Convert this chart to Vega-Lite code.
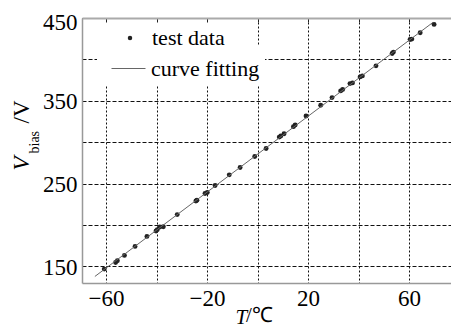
{
  "$schema": "https://vega.github.io/schema/vega-lite/v6.json",
  "width": 369,
  "height": 265,
  "autosize": {"type": "none"},
  "padding": {"left": 82, "top": 18, "right": 0, "bottom": 44},
  "background": "white",
  "config": {
    "view": {"stroke": null},
    "font": "Liberation Serif, serif"
  },
  "title": {
    "text": "/℃",
    "orient": "bottom",
    "anchor": "start",
    "frame": "group",
    "dx": 164,
    "offset": -5,
    "baseline": "alphabetic",
    "font": "Liberation Serif, serif",
    "fontSize": 21,
    "fontWeight": "normal",
    "color": "#000"
  },
  "resolve": {"axis": {"x": "independent", "y": "independent"}},
  "layer": [
    {
      "data": {
        "values": [
          {"T": -60.7, "V": 146.8},
          {"T": -56.2, "V": 154.8},
          {"T": -55.5, "V": 156.9},
          {"T": -52.7, "V": 163.3},
          {"T": -48.5, "V": 174.2},
          {"T": -43.8, "V": 186.3},
          {"T": -40.2, "V": 192.8},
          {"T": -39.7, "V": 194.4},
          {"T": -38.7, "V": 197.6},
          {"T": -37.3, "V": 198.0},
          {"T": -31.8, "V": 212.6},
          {"T": -24.4, "V": 229.1},
          {"T": -24.0, "V": 229.9},
          {"T": -20.8, "V": 238.0},
          {"T": -19.9, "V": 239.2},
          {"T": -16.8, "V": 247.7},
          {"T": -11.2, "V": 260.6},
          {"T": -6.9, "V": 269.5},
          {"T": -1.1, "V": 282.8},
          {"T": 3.4, "V": 292.5},
          {"T": 8.6, "V": 306.2},
          {"T": 9.2, "V": 307.5},
          {"T": 10.5, "V": 310.3},
          {"T": 14.2, "V": 318.8},
          {"T": 14.9, "V": 320.8},
          {"T": 19.2, "V": 331.7},
          {"T": 25.0, "V": 344.6},
          {"T": 29.5, "V": 353.9},
          {"T": 32.9, "V": 362.0},
          {"T": 33.7, "V": 363.6},
          {"T": 36.6, "V": 370.8},
          {"T": 37.6, "V": 371.6},
          {"T": 40.6, "V": 378.9},
          {"T": 41.5, "V": 380.1},
          {"T": 46.9, "V": 392.2},
          {"T": 53.3, "V": 407.2},
          {"T": 53.8, "V": 408.8},
          {"T": 60.4, "V": 424.1},
          {"T": 61.1, "V": 424.5},
          {"T": 64.4, "V": 432.2},
          {"T": 69.9, "V": 442.3}
        ]
      },
      "mark": {"type": "point", "filled": true, "size": 24, "color": "#222", "opacity": 1},
      "encoding": {
        "x": {
          "field": "T", "type": "quantitative",
          "scale": {"domain": [-69.5, 76.6], "nice": false, "zero": false},
          "axis": {
            "orient": "bottom",
            "values": [-60, -40, -20, 0, 20, 40, 60],
            "labelExpr": "abs(datum.value) % 40 == 20 ? datum.label : ''",
            "grid": true, "gridColor": "#111", "gridDash": [2, 2], "gridWidth": 1,
            "domainColor": "#999", "domainWidth": 1.5,
            "ticks": false, "tickSize": 0,
            "labelFont": "Liberation Serif, serif", "labelFontSize": 23, "labelColor": "#000", "labelPadding": 4,
            "title": "T",
            "titleFont": "Liberation Serif, serif", "titleFontSize": 21, "titleFontStyle": "italic", "titleFontWeight": "normal", "titleColor": "#000",
            "titleX": 153, "titleY": 40, "titleAlign": "left", "titleBaseline": "alphabetic", "titleAngle": 0,
            "zindex": 0
          }
        },
        "y": {
          "field": "V", "type": "quantitative",
          "scale": {"domain": [130, 450], "nice": false, "zero": false},
          "axis": {
            "orient": "left",
            "values": [150, 200, 250, 300, 350, 400, 450],
            "labelExpr": "datum.value % 100 == 50 ? datum.label : ''",
            "labelOffset": {"condition": {"test": "datum.value == 450", "value": 4}, "value": 1},
            "grid": true, "gridColor": "#111", "gridDash": [4, 2], "gridWidth": 1,
            "domainColor": "#999", "domainWidth": 1.5,
            "ticks": false, "tickSize": 0,
            "labelFont": "Liberation Serif, serif", "labelFontSize": 23, "labelColor": "#000", "labelPadding": 5,
            "title": "V",
            "titleFont": "Liberation Serif, serif", "titleFontSize": 23, "titleFontStyle": "italic", "titleFontWeight": "normal", "titleColor": "#000",
            "titleX": -54, "titleY": 152, "titleAlign": "left", "titleBaseline": "alphabetic", "titleAngle": -90,
            "zindex": 0
          }
        },
        "shape": {
          "datum": "test data", "type": "nominal",
          "scale": {"domain": ["test data"], "range": ["circle"]},
          "legend": {
            "orient": "none", "legendX": 15, "legendY": 4,
            "title": null,
            "fillColor": "white", "strokeColor": null,
            "padding": 5,
            "symbolSize": 20,
            "symbolFillColor": "#222",
            "symbolStrokeWidth": 0,
            "symbolOffset": 17,
            "labelOffset": 11,
            "labelFont": "Liberation Serif, serif", "labelFontSize": 22, "labelColor": "#000"
          }
        }
      }
    },
    {
      "data": {
        "values": [
          {"T": -64.4, "V": 137.9},
          {"T": 69.5, "V": 444.8}
        ]
      },
      "mark": {"type": "line", "strokeWidth": 1},
      "encoding": {
        "x": {
          "field": "T", "type": "quantitative",
          "axis": {
            "orient": "top",
            "values": [-60, -40, -20, 0, 20, 40, 60],
            "labels": false, "grid": false,
            "ticks": true, "tickSize": -4, "tickColor": "#222", "tickWidth": 1,
            "domainColor": "#aaa", "domainWidth": 2,
            "title": "bias",
            "titleFont": "Liberation Serif, serif", "titleFontSize": 14, "titleFontWeight": "normal", "titleColor": "#000",
            "titleX": -44, "titleY": 135, "titleAlign": "left", "titleBaseline": "alphabetic", "titleAngle": -90,
            "zindex": 1
          }
        },
        "y": {
          "field": "V", "type": "quantitative",
          "axis": {
            "orient": "left",
            "labels": false, "grid": false, "ticks": false, "domain": false,
            "title": "/V",
            "titleFont": "Liberation Serif, serif", "titleFontSize": 23, "titleFontWeight": "normal", "titleColor": "#000",
            "titleX": -54, "titleY": 105, "titleAlign": "left", "titleBaseline": "alphabetic", "titleAngle": -90,
            "zindex": 1
          }
        },
        "color": {
          "datum": "curve fitting", "type": "nominal",
          "scale": {"domain": ["curve fitting"], "range": ["#666"]},
          "legend": {
            "orient": "none", "legendX": 15, "legendY": 28,
            "title": null,
            "fillColor": "white", "strokeColor": null,
            "padding": 5,
            "symbolType": "stroke",
            "symbolSize": 1156,
            "symbolStrokeWidth": 1,
            "symbolStrokeColor": "#666",
            "symbolOffset": 9,
            "labelOffset": 5,
            "labelFont": "Liberation Serif, serif", "labelFontSize": 22, "labelColor": "#000"
          }
        }
      }
    }
  ]
}
